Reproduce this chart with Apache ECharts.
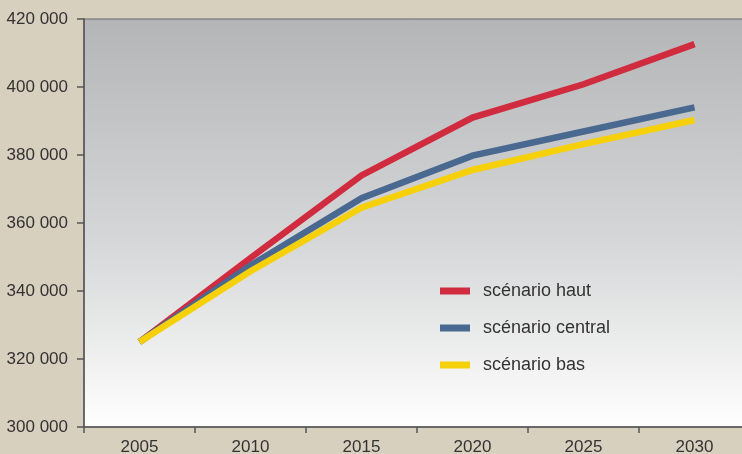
<!DOCTYPE html>
<html>
<head>
<meta charset="utf-8">
<script src="https://cdn.jsdelivr.net/npm/echarts@6/dist/echarts.min.js"></script>
<style>
  html, body { margin: 0; padding: 0; background: #d8d0bf; }
  #main { width: 742px; height: 454px; }
</style>
</head>
<body>
<div id="main"></div>
<script>
var years = ['2005', '2010', '2015', '2020', '2025', '2030'];
var haut = [325000, 349700, 374000, 391000, 400800, 412600];
var central = [325000, 347500, 367300, 379800, 386900, 394000];
var bas = [325000, 345800, 364500, 375600, 383200, 390300];

var chart = echarts.init(document.getElementById('main'));
var labelFont = '"Liberation Sans", Arial, sans-serif';

var option = {
  backgroundColor: '#d8d0bf',
  animation: false,
  grid: {
    left: 84,
    top: 19,
    bottom: 27,
    right: -8,
    outerBoundsMode: 'none',
    containLabel: false,
    show: true,
    borderColor: '#666',
    borderWidth: 1,
    backgroundColor: new echarts.graphic.LinearGradient(0, 0, 0, 1, [
      { offset: 0, color: '#b4b5b7' },
      { offset: 0.55, color: '#d6d7d8' },
      { offset: 1, color: '#ffffff' }
    ])
  },
  legend: {
    orient: 'vertical',
    left: 435,
    top: 277,
    itemGap: 19,
    itemWidth: 30,
    itemHeight: 7,
    icon: 'rect',
    textStyle: { fontFamily: labelFont, fontSize: 18, color: '#333', lineHeight: 18, padding: [0, 0, 0, 8] },
    data: ['scénario haut', 'scénario central', 'scénario bas']
  },
  xAxis: {
    type: 'category',
    data: years,
    boundaryGap: true,
    axisLine: { lineStyle: { color: '#555', width: 1.5 } },
    axisTick: { show: true, length: 6, lineStyle: { color: '#555', width: 1.5 } },
    axisLabel: { fontFamily: labelFont, fontSize: 17, color: '#333', margin: 12 },
    splitLine: { show: false }
  },
  yAxis: {
    type: 'value',
    min: 300000,
    max: 420000,
    interval: 20000,
    axisLine: { show: true, lineStyle: { color: '#555', width: 1.5 } },
    axisTick: { show: true, length: 7, lineStyle: { color: '#555', width: 1.5 } },
    axisLabel: {
      fontFamily: labelFont, fontSize: 17, color: '#333', margin: 16,
      formatter: function (v) { return String(v).replace(/\B(?=(\d{3})+(?!\d))/g, ' '); }
    },
    splitLine: { show: false }
  },
  series: [
    {
      name: 'scénario haut', type: 'line', data: haut, z: 2,
      symbol: 'none', color: '#d12b3f',
      lineStyle: { width: 6.5, color: '#d12b3f', cap: 'butt', join: 'miter' }
    },
    {
      name: 'scénario central', type: 'line', data: central, z: 3,
      symbol: 'none', color: '#4a6991',
      lineStyle: { width: 6.5, color: '#4a6991', cap: 'butt', join: 'miter' }
    },
    {
      name: 'scénario bas', type: 'line', data: bas, z: 4,
      symbol: 'none', color: '#f6d10a',
      lineStyle: { width: 6.5, color: '#f6d10a', cap: 'butt', join: 'miter' }
    }
  ]
};

chart.setOption(option);
</script>
</body>
</html>
